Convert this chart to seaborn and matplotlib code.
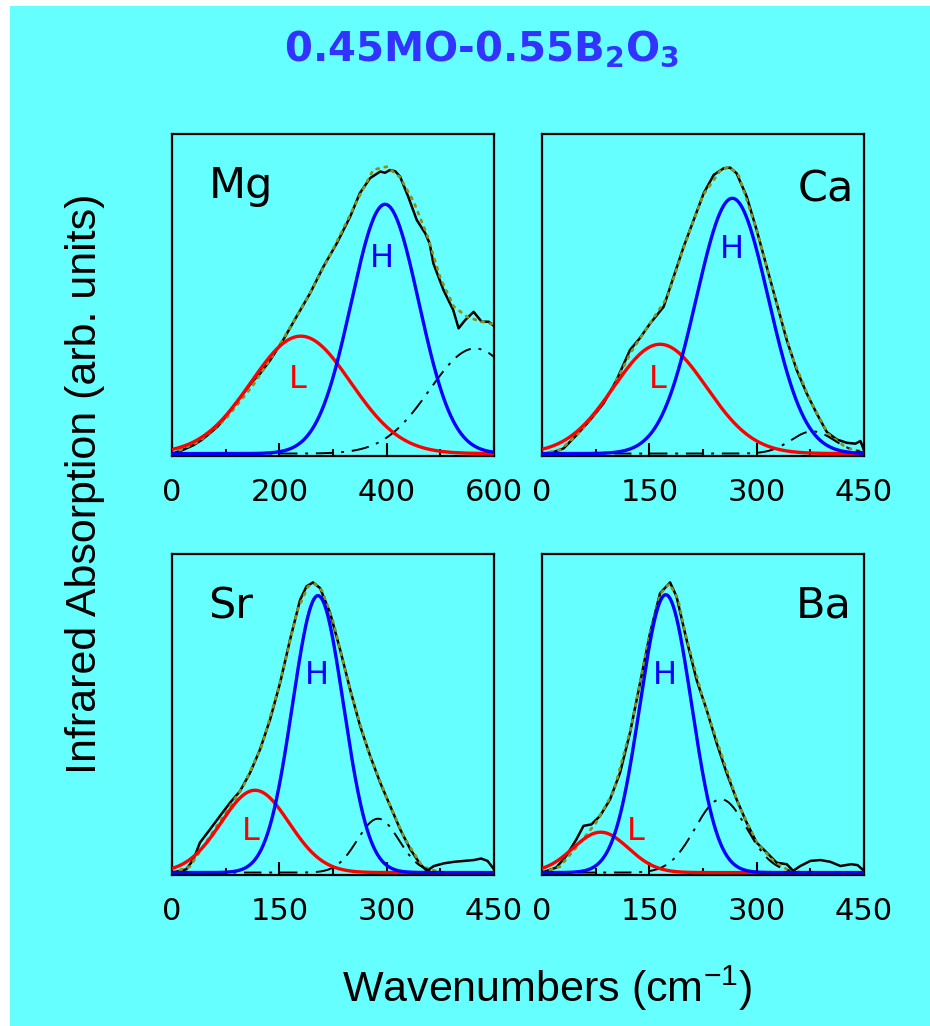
import numpy as np
import matplotlib
matplotlib.use("Agg")
import matplotlib.pyplot as plt
from matplotlib.patches import Rectangle
import seaborn as sns

# ---- measured far-IR spectra: wavenumber (cm-1) and absorption (arb. units) ----
mg_wn = [0, 20, 40, 55, 70, 85, 100, 115, 133, 150, 164, 183, 207, 232, 257, 282,
         307, 332, 350, 369, 388, 397, 406, 416, 425, 440, 456, 472, 480, 487, 506,
         524, 534, 546, 562, 577, 590, 600]
mg_abs = [0.0, 0.012, 0.028, 0.045, 0.067, 0.09, 0.122, 0.16, 0.2, 0.24, 0.266, 0.311,
          0.378, 0.456, 0.533, 0.622, 0.70, 0.789, 0.867, 0.917, 0.939, 0.935, 0.944,
          0.94, 0.922, 0.856, 0.778, 0.733, 0.70, 0.633, 0.544, 0.478, 0.417, 0.444,
          0.472, 0.439, 0.439, 0.425]

ca_wn = [0, 15, 30, 48, 67, 86, 104, 123, 137, 151, 170, 184, 198, 212, 226, 240, 254,
         263, 272, 286, 300, 314, 328, 342, 356, 370, 384, 398, 412, 426, 438, 445, 450]
ca_abs = [0.0, 0.004, 0.017, 0.061, 0.111, 0.167, 0.244, 0.345, 0.385, 0.433, 0.489,
          0.589, 0.689, 0.778, 0.867, 0.928, 0.95, 0.952, 0.933, 0.856, 0.744, 0.622,
          0.5, 0.378, 0.278, 0.2, 0.133, 0.072, 0.047, 0.036, 0.033, 0.042, 0.011]

sr_wn = [0, 20, 30, 39, 53, 67, 81, 95, 109, 123, 137, 151, 165, 179, 188, 197, 207,
         221, 235, 249, 263, 277, 291, 305, 319, 333, 347, 356, 366, 380, 394, 408, 422,
         432, 441, 450]
sr_abs = [0.0, 0.011, 0.044, 0.1, 0.144, 0.189, 0.233, 0.272, 0.333, 0.411, 0.511,
          0.633, 0.778, 0.911, 0.956, 0.969, 0.95, 0.867, 0.744, 0.611, 0.489, 0.389,
          0.3, 0.222, 0.144, 0.078, 0.028, 0.006, 0.022, 0.031, 0.036, 0.039, 0.042,
          0.047, 0.039, 0.011]

ba_wn = [0, 20, 34, 48, 58, 69, 81, 95, 109, 123, 137, 151, 165, 179, 188, 202, 216,
         230, 244, 258, 272, 286, 300, 314, 328, 342, 351, 361, 375, 389, 403, 417, 432,
         441, 450]
ba_abs = [0.0, 0.017, 0.056, 0.111, 0.156, 0.161, 0.189, 0.244, 0.333, 0.467, 0.633,
          0.8, 0.933, 0.969, 0.922, 0.778, 0.644, 0.544, 0.433, 0.333, 0.244, 0.167,
          0.1, 0.067, 0.033, 0.028, 0.006, 0.022, 0.039, 0.042, 0.036, 0.022, 0.028,
          0.025, 0.006]

# ---- overall fitted envelope (dotted) ----
mg_fit_wn = [0, 50, 100, 150, 200, 250, 300, 350, 375, 400, 425, 450, 475, 500, 525,
             550, 575, 600]
mg_fit = [0.0, 0.04, 0.115, 0.225, 0.36, 0.51, 0.68, 0.86, 0.945, 0.955, 0.92, 0.84,
          0.73, 0.585, 0.49, 0.455, 0.44, 0.43]

ca_fit_wn = [0, 25, 50, 75, 100, 125, 150, 175, 200, 225, 250, 262, 275, 300, 325, 350,
             375, 400, 425, 450]
ca_fit = [0.0, 0.012, 0.065, 0.135, 0.225, 0.34, 0.43, 0.52, 0.70, 0.86, 0.945, 0.955,
          0.925, 0.744, 0.525, 0.32, 0.175, 0.065, 0.02, 0.005]

sr_fit_wn = [0, 25, 50, 75, 100, 125, 150, 175, 190, 200, 210, 225, 250, 275, 300, 325,
             350, 375, 400, 450]
sr_fit = [0.0, 0.02, 0.11, 0.2, 0.29, 0.42, 0.625, 0.875, 0.955, 0.965, 0.94, 0.84,
          0.60, 0.40, 0.25, 0.115, 0.02, 0.0, 0.0, 0.0]

ba_fit_wn = [0, 25, 50, 75, 100, 125, 150, 165, 178, 190, 200, 225, 250, 275, 300, 325,
             350, 375, 450]
ba_fit = [0.0, 0.02, 0.09, 0.165, 0.27, 0.49, 0.79, 0.93, 0.965, 0.915, 0.80, 0.58,
          0.40, 0.225, 0.10, 0.035, 0.0, 0.0, 0.0]

# ---- fitted Gaussian bands, ordered L, H, third band ----
# centre (cm-1), peak height (arb. units), standard deviation (cm-1)
mg_centres = [240, 397, 565]
mg_heights = [0.391, 0.83, 0.35]
mg_sigmas = [93, 63, 85]

ca_centres = [165, 266, 378]
ca_heights = [0.364, 0.85, 0.074]
ca_sigmas = [65, 50.5, 30]

sr_centres = [116, 204, 288]
sr_heights = [0.275, 0.925, 0.18]
sr_sigmas = [47.5, 35.6, 29]

ba_centres = [82, 173, 250]
ba_heights = [0.135, 0.928, 0.245]
ba_sigmas = [38.6, 36, 36]

cations = ["Mg", "Ca", "Sr", "Ba"]
x_max = [600, 450, 450, 450]
major_step = [200, 150, 150, 150]
minor_step = [100, 75, 75, 75]

CYAN = "#66FFFF"
BLUE = "#0000FF"
RED = "#FF0000"
OLIVE = "#8E8E1C"

sns.set_theme(style="ticks")
plt.rcParams["font.family"] = ["DejaVu Sans"]
plt.rcParams["mathtext.fontset"] = "dejavusans"
plt.rcParams["text.color"] = "black"

fig = plt.figure(figsize=(9.3, 10.26), dpi=100, facecolor="white")
fig.add_artist(Rectangle((10 / 930, 0), 920 / 930, 1.0 - 6 / 1026,
                         transform=fig.transFigure, facecolor=CYAN,
                         edgecolor="none", zorder=-5))

W, H = 930.0, 1026.0
boxes = [  # left, top, right, bottom in pixels
    (172, 134, 494, 456),
    (542, 134, 864, 456),
    (172, 554, 494, 875),
    (542, 554, 864, 875),
]

spectra = [(mg_wn, mg_abs), (ca_wn, ca_abs), (sr_wn, sr_abs), (ba_wn, ba_abs)]
envelopes = [(mg_fit_wn, mg_fit), (ca_fit_wn, ca_fit), (sr_fit_wn, sr_fit),
             (ba_fit_wn, ba_fit)]
bands = [(mg_centres, mg_heights, mg_sigmas), (ca_centres, ca_heights, ca_sigmas),
         (sr_centres, sr_heights, sr_sigmas), (ba_centres, ba_heights, ba_sigmas)]

# panel label placement (axes fraction): x, baseline y, alignment
name_pos = [(0.114, 0.800, "left"), (0.968, 0.790, "right"),
            (0.112, 0.800, "left"), (0.962, 0.803, "right")]
h_pos = [(0.652, 0.588), (0.590, 0.614), (0.449, 0.595), (0.383, 0.595)]
l_pos = [(0.389, 0.212), (0.360, 0.210), (0.244, 0.109), (0.290, 0.109)]

for i in range(4):
    l, t, r, b = boxes[i]
    ax = fig.add_axes([l / W, 1 - b / H, (r - l) / W, (b - t) / H])
    ax.set_facecolor(CYAN)
    xm = x_max[i]
    grid = np.linspace(0, xm, 600)
    centres, heights, sigmas = bands[i]
    comps = [h * np.exp(-0.5 * ((grid - c) / s) ** 2)
             for c, h, s in zip(centres, heights, sigmas)]

    wn, ab = spectra[i]
    fw, fv = envelopes[i]
    sns.lineplot(x=wn, y=ab, ax=ax, color="black", lw=1.8, zorder=2)
    sns.lineplot(x=fw, y=fv, ax=ax, color=OLIVE, lw=2.0,
                 linestyle=(0, (0.8, 2.2)), dash_capstyle="round", zorder=3)
    sns.lineplot(x=grid, y=comps[2], ax=ax, color="black", lw=1.4,
                 linestyle=(0, (9, 4, 1.5, 4)), zorder=3)
    sns.lineplot(x=grid, y=comps[0], ax=ax, color=RED, lw=2.4, zorder=4)
    sns.lineplot(x=grid, y=comps[1], ax=ax, color=BLUE, lw=2.4, zorder=5)

    ax.set_xlim(0, xm)
    ax.set_ylim(-0.008, 1.064)
    ax.set_xticks(np.arange(0, xm + 1, major_step[i]))
    ax.set_xticks(np.arange(minor_step[i], xm, 2 * minor_step[i]), minor=True)
    ax.set_yticks([])
    ax.set_xlabel("")
    ax.set_ylabel("")
    ax.tick_params(axis="x", which="major", direction="in", length=9.5, width=1.5,
                   pad=15.5, labelsize=22, colors="black")
    ax.tick_params(axis="x", which="minor", direction="in", length=5, width=1.5,
                   colors="black")
    for sp in ax.spines.values():
        sp.set_visible(True)
        sp.set_linewidth(1.6)
        sp.set_color("black")

    nx, ny, ha = name_pos[i]
    ax.text(nx, ny, cations[i], transform=ax.transAxes, ha=ha, va="baseline",
            fontsize=31, color="black")
    ax.text(h_pos[i][0], h_pos[i][1], "H", transform=ax.transAxes, ha="center",
            va="baseline", fontsize=23, color=BLUE)
    ax.text(l_pos[i][0], l_pos[i][1], "L", transform=ax.transAxes, ha="center",
            va="baseline", fontsize=23, color=RED)

fig.text(482 / W, 1 - 60 / H, r"0.45MO-0.55B$_\mathbf{2}$O$_\mathbf{3}$",
         ha="center", va="baseline", fontsize=29, fontweight="bold", color="#3333FF")
fig.text(85 / W, 1 - 484 / H, "Infrared Absorption (arb. units)", rotation=90,
         ha="center", va="center", fontsize=31, family=["Liberation Sans"],
         color="black")
fig.text(547 / W, 1 - 1002 / H, r"Wavenumbers (cm$^{\mathregular{-1}}$)",
         ha="center", va="baseline", fontsize=31, family=["Liberation Sans"],
         color="black")

fig.savefig("out.png", dpi=100, facecolor="white")
